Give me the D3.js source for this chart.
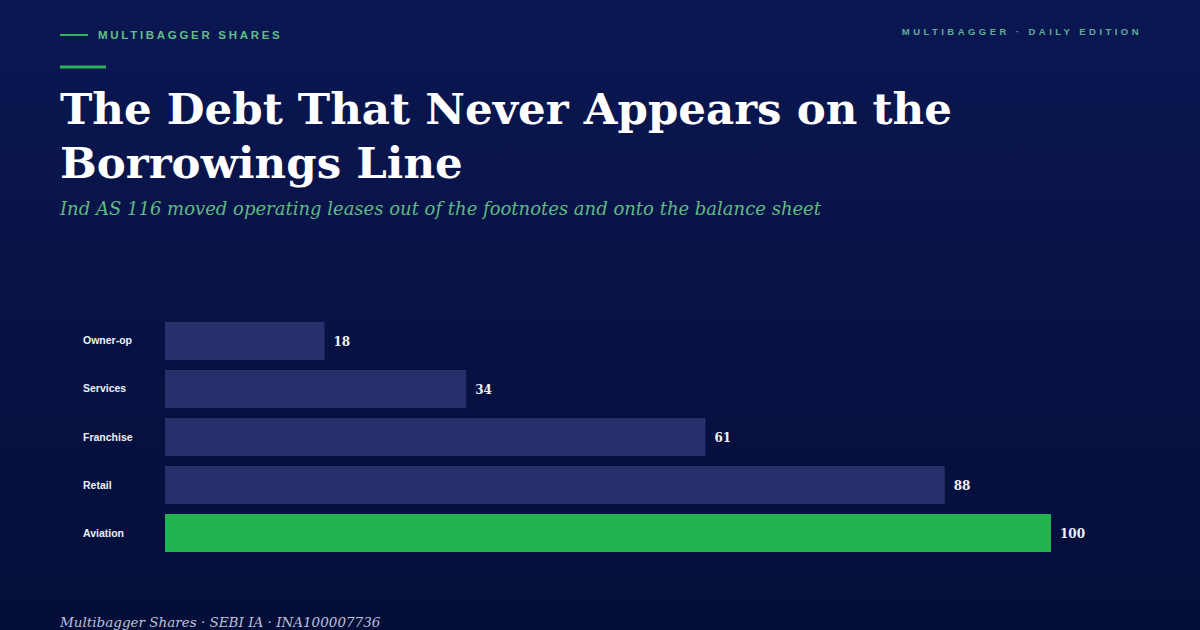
<!DOCTYPE html>
<html><head><meta charset="utf-8">
<script src="https://cdn.jsdelivr.net/npm/d3@7/dist/d3.min.js"></script>
<style>html,body{margin:0;padding:0;background:#07113f;}svg{display:block;}</style>
</head><body>
<svg id="c" width="1200" height="630"></svg>
<script>
const categories = ["Owner-op","Services","Franchise","Retail","Aviation"];
const values = [18,34,61,88,100];
const highlight = "Aviation";

const svg = d3.select("#c");
const defs = svg.append("defs");
const g = defs.append("linearGradient").attr("id","bg").attr("x1",0).attr("y1",0).attr("x2",0).attr("y2",1);
g.append("stop").attr("offset","0%").attr("stop-color","#0a1752");
g.append("stop").attr("offset","100%").attr("stop-color","#050e38");
svg.append("rect").attr("width",1200).attr("height",630).attr("fill","url(#bg)");

// kicker
svg.append("line").attr("x1",60).attr("x2",88).attr("y1",35).attr("y2",35).attr("stroke","#2fb45a").attr("stroke-width",2);
svg.append("text").attr("x",98).attr("y",38.5).text("MULTIBAGGER SHARES")
  .attr("font-family","Liberation Sans, Arial, sans-serif").attr("font-weight","bold").attr("font-size",11.5)
  .attr("letter-spacing",2.7).attr("fill","#62bf86");
svg.append("text").attr("x",1142).attr("y",35).attr("text-anchor","end").text("MULTIBAGGER · DAILY EDITION")
  .attr("font-family","Liberation Sans, Arial, sans-serif").attr("font-weight","bold").attr("font-size",9.5)
  .attr("letter-spacing",3.45).attr("fill","#5fae95");
svg.append("rect").attr("x",60).attr("y",65.5).attr("width",46).attr("height",3).attr("fill","#27b356");

const title = svg.append("text").attr("font-family","DejaVu Serif, serif").attr("font-weight","bold")
  .attr("font-size",43.5).attr("fill","#ffffff");
title.append("tspan").attr("x",60).attr("y",124).text("The Debt That Never Appears on the");
title.append("tspan").attr("x",60).attr("y",178).text("Borrowings Line");

svg.append("text").attr("x",60).attr("y",215).text("Ind AS 116 moved operating leases out of the footnotes and onto the balance sheet")
  .attr("font-family","DejaVu Serif, serif").attr("font-style","italic").attr("font-size",18).attr("fill","#5fba82");

// chart
const x = d3.scaleLinear().domain([0,100]).range([165,1051]);
const y = d3.scaleBand().domain(categories).range([317,557]).paddingInner(0.2083).paddingOuter(0.104);

svg.append("g").selectAll("rect").data(categories).join("rect")
  .attr("x",x(0)).attr("y",d=>y(d)).attr("height",y.bandwidth())
  .attr("width",(d,i)=>x(values[i])-x(0))
  .attr("fill",d=>d===highlight?"#22b24f":"#27306b");

svg.append("g").selectAll("text").data(categories).join("text")
  .attr("x",83).attr("y",d=>y(d)+y.bandwidth()/2+3.5).text(d=>d)
  .attr("font-family","Liberation Sans, Arial, sans-serif").attr("font-weight","bold").attr("font-size",10.5).attr("fill","#eef0f6");

svg.append("g").selectAll("text").data(categories).join("text")
  .attr("x",(d,i)=>x(values[i])+9).attr("y",d=>y(d)+y.bandwidth()/2+5).text((d,i)=>values[i])
  .attr("font-family","DejaVu Serif, serif").attr("font-weight","bold").attr("font-size",12).attr("fill","#eef0f6");

svg.append("text").attr("x",60).attr("y",627).text("Multibagger Shares · SEBI IA · INA100007736")
  .attr("font-family","DejaVu Serif, serif").attr("font-style","italic").attr("font-size",13.5).attr("fill","#b9c1da");
</script>
</body></html>
